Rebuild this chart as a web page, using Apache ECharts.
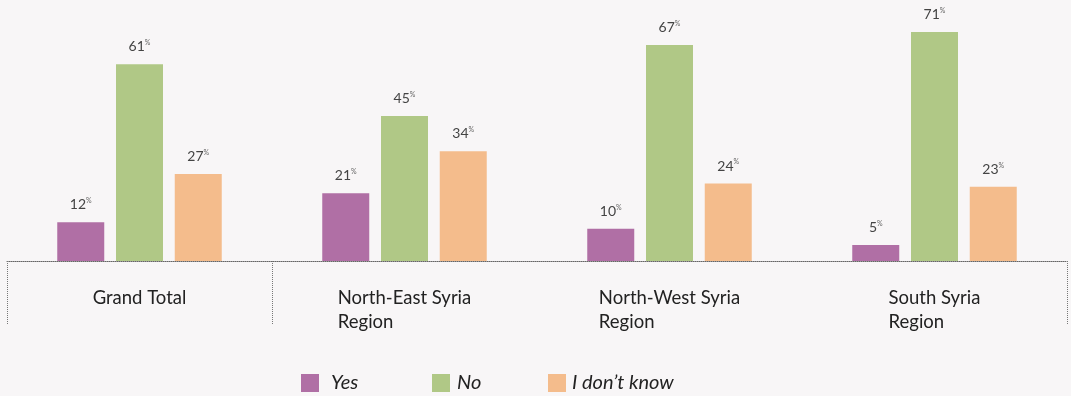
<!DOCTYPE html>
<html>
<head>
<meta charset="utf-8">
<script src="https://cdn.jsdelivr.net/npm/echarts@6/dist/echarts.min.js"></script>
<style>
  html, body { margin: 0; padding: 0; background: #f8f6f7; }
  #chart { width: 1071px; height: 396px; }
</style>
</head>
<body>
<div id="chart"></div>
<script>
let categories = ['Grand Total', 'North-East Syria\nRegion', 'North-West Syria\nRegion', 'South Syria\nRegion'];
let yesValues = [12, 21, 10, 5];
let noValues = [61, 45, 67, 71];
let dontKnowValues = [27, 34, 24, 23];
let seriesNames = ['Yes', 'No', 'I don\u2019t know'];
let colors = ['#b06fa5', '#b0c886', '#f4bc8c'];

let fontFamily = 'Lato, "Noto Sans", sans-serif';

function makeSeries(name, data, color){
  return {
    name: name,
    type: 'bar',
    data: data,
    barWidth: 47,
    barGap: '25%',
    itemStyle: { color: color },
    label: {
      show: true,
      position: 'top',
      distance: 10,
      formatter: function(p){
        return '{n|' + p.value + '}{p|%}';
      },
      rich: {
        n: { fontSize: 14, color: '#444', fontFamily: fontFamily, lineHeight: 15 },
        p: { fontSize: 7, color: '#666', fontFamily: fontFamily, lineHeight: 7, verticalAlign: 'top' }
      }
    }
  };
}

function makeLegend(name, left, textGap){
  return {
    data: [name],
    left: left,
    top: 373,
    padding: 0,
    itemWidth: 18,
    itemHeight: 18,
    icon: 'rect',
    textStyle: {
      fontSize: 20,
      fontStyle: 'italic',
      color: '#222',
      fontFamily: fontFamily,
      padding: [4, 0, 0, textGap]
    }
  };
}

let chart = echarts.init(document.getElementById('chart'));
let options = {
  animation: false,
  backgroundColor: '#f8f6f7',
  legend: [
    makeLegend(seriesNames[0], 301, 7),
    makeLegend(seriesNames[1], 432, 2),
    makeLegend(seriesNames[2], 548, 1)
  ],
  grid: {
    left: 7,
    right: 4,
    top: 3,
    bottom: 135,
    containLabel: false
  },
  xAxis: {
    type: 'category',
    data: categories,
    boundaryGap: true,
    axisLine: {
      show: true,
      lineStyle: { color: '#666', type: 'dotted', width: 1 }
    },
    // only the first two boundaries and the right edge carry a divider
    axisTick: {
      show: true,
      length: 64,
      interval: function(index){
        return index === 0 || index === 1;
      },
      lineStyle: { color: '#777', type: 'dotted', width: 1 }
    },
    axisLabel: {
      interval: 0,
      margin: 25,
      formatter: function(value){
        return value.split('\n').map(function(s){ return '{l|' + s + '}'; }).join('\n');
      },
      rich: {
        l: { fontSize: 18.5, lineHeight: 24, color: '#222', fontFamily: fontFamily, align: 'left' }
      }
    }
  },
  yAxis: {
    type: 'value',
    min: 0,
    max: 80,
    show: false,
    splitLine: { show: false }
  },
  series: [
    makeSeries(seriesNames[0], yesValues, colors[0]),
    makeSeries(seriesNames[1], noValues, colors[1]),
    makeSeries(seriesNames[2], dontKnowValues, colors[2])
  ]
};
chart.setOption(options);
</script>
</body>
</html>
